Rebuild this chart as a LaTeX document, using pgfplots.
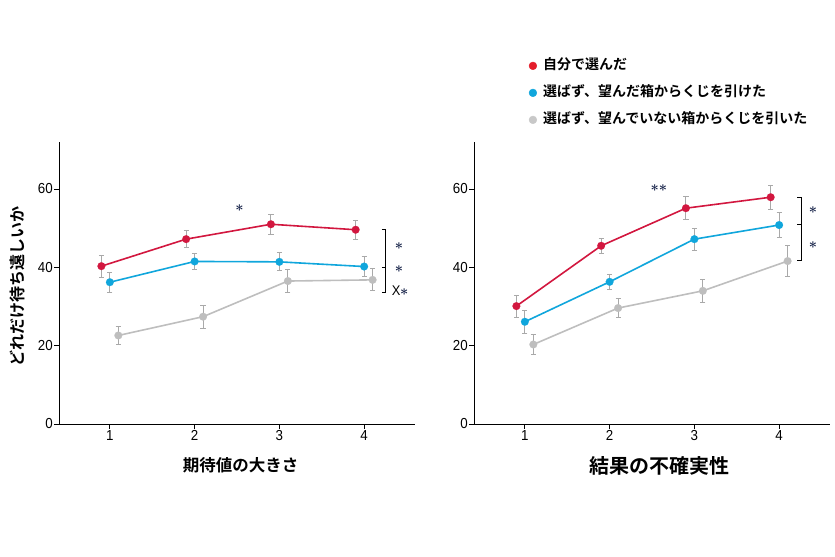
\documentclass[border=0pt]{standalone}
\usepackage{fontspec}
\usepackage{pgfplots}
\pgfplotsset{compat=1.18}
\setmainfont{Liberation Sans}
\newfontfamily\jp{Noto Sans CJK JP}[UprightFont={* Bold}]
\newfontfamily\ticks{Liberation Sans}[FakeStretch=0.92]
\definecolor{cRed}{HTML}{D2173F}
\definecolor{cBlue}{HTML}{10A6DC}
\definecolor{cGray}{HTML}{BEBEBE}
\definecolor{cErr}{HTML}{A9A9A9}
\definecolor{cLegRed}{HTML}{E41D2B}
\definecolor{cLegGray}{HTML}{C8C8C8}
\definecolor{cStar}{HTML}{18244A}
\tikzset{star/.style={text=cStar, font=\fontsize{15bp}{17bp}\selectfont\boldmath, inner sep=0pt, anchor=center}}
\pgfplotsset{
  myaxis/.style={
    scale only axis, width=356bp, height=282bp,
    xmin=0.4, xmax=4.6, ymin=0, ymax=72,
    axis x line*=bottom, axis y line*=left,
    xtick={1,2,3,4}, ytick={0,20,40,60},
    tick align=outside, major tick length=5bp,
    tick style={black, line width=0.8bp},
    axis line style={black, line width=0.8bp},
    tick label style={font=\ticks\fontsize{14.5bp}{16bp}\selectfont},
    yticklabel style={inner sep=1bp},
    xticklabel style={inner sep=1.5bp},
    /pgf/number format/assume math mode=true,
    clip=false,
  },
  ser/.style={color=#1, line width=1.6bp, mark=*, mark size=3.9bp,
    mark options={fill=#1, draw=#1, line width=0.1bp},
    error bars/y dir=both, error bars/y explicit,
    error bars/error bar style={color=cErr, line width=0.9bp},
    error bars/error mark options={rotate=90, mark size=2.6bp, color=cErr, line width=0.9bp}},
}
\begin{document}
\begin{tikzpicture}
\path[use as bounding box] (0,0) rectangle (835bp,557bp);
% ---------------- left panel
\begin{axis}[myaxis, at={(59bp,133bp)}, anchor=south west,
  xlabel={期待値の大きさ},
  xlabel style={font=\jp\fontsize{16.5bp}{18bp}\selectfont, at={(axis description cs:0.51,-0.145)}, anchor=center},
  ylabel={どれだけ待ち遠しいか},
  ylabel style={font=\jp\fontsize{16bp}{18bp}\selectfont, at={(axis description cs:-0.118,0.489)}, anchor=center, rotate=0},
]
\addplot[ser=cGray] coordinates {(1.1,22.6) +- (0,2.35) (2.1,27.4) +- (0,2.9) (3.1,36.5) +- (0,3.0) (4.1,36.8) +- (0,2.8)};
\addplot[ser=cBlue] coordinates {(1,36.2) +- (0,2.5) (2,41.5) +- (0,2.1) (3,41.4) +- (0,2.3) (4,40.2) +- (0,2.6)};
\addplot[ser=cRed] coordinates {(0.9,40.3) +- (0,2.8) (1.9,47.2) +- (0,2.2) (2.9,51.0) +- (0,2.6) (3.9,49.6) +- (0,2.4)};
\node[star] at (axis cs:2.53,55.1) {$\ast$};
\draw[black, line width=0.8bp] (axis cs:4.208,49.7) -- (axis cs:4.255,49.7) -- (axis cs:4.255,33.6) -- (axis cs:4.208,33.6);
\draw[black, line width=0.8bp] (axis cs:4.208,40.1) -- (axis cs:4.255,40.1);
\node[star] at (axis cs:4.41,45.3) {$\ast$};
\node[star] at (axis cs:4.41,39.6) {$\ast$};
\node[star, text=black] at (axis cs:4.425,34.1) {\ticks\fontsize{14bp}{16bp}\selectfont X\kern-0.5bp\textcolor{cStar}{$\ast$}};
\end{axis}
% ---------------- right panel
\begin{axis}[myaxis, at={(474bp,133bp)}, anchor=south west,
  xlabel={結果の不確実性},
  xlabel style={font=\jp\fontsize{20bp}{22bp}\selectfont, at={(axis description cs:0.521,-0.149)}, anchor=center},
  legend style={at={(axis description cs:0.154,1.293)}, anchor=north west, draw=none, fill=none,
    font=\jp\fontsize{14bp}{16bp}\selectfont, row sep=14bp, column sep=6bp,
    inner sep=0pt, outer sep=0pt,
    nodes={inner sep=0pt, text height=10bp, text depth=3bp, anchor=west}},
  legend cell align=left,
]
\addplot[forget plot, ser=cGray] coordinates {(1.1,20.3) +- (0,2.65) (2.1,29.6) +- (0,2.35) (3.1,34.0) +- (0,2.9) (4.1,41.6) +- (0,3.95)};
\addplot[forget plot, ser=cBlue] coordinates {(1,26.1) +- (0,2.9) (2,36.3) +- (0,2.0) (3,47.2) +- (0,2.8) (4,50.8) +- (0,3.1)};
\addplot[forget plot, ser=cRed] coordinates {(0.9,30.1) +- (0,2.8) (1.9,45.5) +- (0,1.9) (2.9,55.1) +- (0,3.0) (3.9,57.9) +- (0,3.0)};
\addlegendimage{legend image code/.code={\fill[cLegRed] (0bp,0bp) circle (3.9bp);}}
\addlegendentry{自分で選んだ}
\addlegendimage{legend image code/.code={\fill[cBlue] (0bp,0bp) circle (3.9bp);}}
\addlegendentry{選ばず、望んだ箱からくじを引けた}
\addlegendimage{legend image code/.code={\fill[cLegGray] (0bp,0bp) circle (3.9bp);}}
\addlegendentry{選ばず、望んでいない箱からくじを引いた}
\node[star] at (axis cs:2.58,60.2) {$\ast\ast$};
\draw[black, line width=0.8bp] (axis cs:4.213,57.9) -- (axis cs:4.26,57.9) -- (axis cs:4.26,41.7) -- (axis cs:4.213,41.7);
\draw[black, line width=0.8bp] (axis cs:4.213,50.9) -- (axis cs:4.26,50.9);
\node[star] at (axis cs:4.40,54.5) {$\ast$};
\node[star] at (axis cs:4.40,45.7) {$\ast$};
\end{axis}
\end{tikzpicture}
\end{document}
